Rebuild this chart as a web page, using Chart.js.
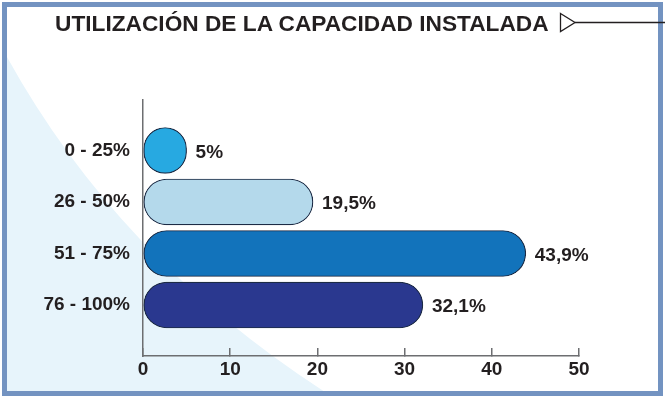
<!DOCTYPE html>
<html>
<head>
<meta charset="utf-8">
<script src="https://cdn.jsdelivr.net/npm/chart.js@4.4.0/dist/chart.umd.min.js"></script>
<style>
  body{margin:0;background:#fff;}
  #box{position:relative;width:665px;height:397px;overflow:hidden;}
  #frame{position:absolute;left:2px;top:2px;width:661px;height:394px;box-sizing:border-box;border:5px solid #7393c1;}
  #title{position:absolute;left:55px;top:12px;font:bold 22.7px "Liberation Sans",Arial,sans-serif;line-height:22px;color:#231f20;white-space:nowrap;}
  canvas, svg{position:absolute;left:0;top:0;}
</style>
</head>
<body>
<div id="box">
  <canvas id="myChart" width="665" height="397"></canvas>
  <div id="frame"></div>
  <div id="title">UTILIZACIÓN DE LA CAPACIDAD INSTALADA</div>
  <svg width="665" height="397">
    <polygon points="560.5,13.5 575,22.5 560.5,31.5" fill="#fff" stroke="#231f20" stroke-width="1.3"/>
    <line x1="575" y1="22.5" x2="665" y2="22.5" stroke="#231f20" stroke-width="1.3"/>
  </svg>
</div>
<script>
var categories = ["0 - 25%", "26 - 50%", "51 - 75%", "76 - 100%"];
var values = [5, 19.5, 43.9, 32.1];
var barColors = ["#27a9e1", "#b4d9eb", "#1273bb", "#2a388f"];
var xTicks = [0, 10, 20, 30, 40, 50];

var labelFont = {family: "Liberation Sans", size: 19, weight: "bold"};

// light blue curved wedge behind the chart
var wedge = {
  id: "wedge",
  beforeDraw: function(chart){
    var ctx = chart.ctx;
    ctx.save();
    ctx.beginPath();
    ctx.rect(7, 7, 651, 384);
    ctx.clip();
    ctx.beginPath();
    ctx.moveTo(7, 57);
    ctx.quadraticCurveTo(118, 258, 325, 392);
    ctx.lineTo(7, 392);
    ctx.closePath();
    ctx.fillStyle = "#e7f4fb";
    ctx.fill();
    ctx.restore();
  }
};

// value text at the end of each bar
var valueLabels = {
  id: "valueLabels",
  afterDatasetsDraw: function(chart){
    var ctx = chart.ctx;
    var meta = chart.getDatasetMeta(0);
    ctx.save();
    ctx.font = "bold 19px 'Liberation Sans'";
    ctx.fillStyle = "#231f20";
    ctx.textBaseline = "middle";
    meta.data.forEach(function(bar, i){
      var txt = String(values[i]).replace(".", ",") + "%";
      ctx.fillText(txt, bar.x + 9, bar.y + 2);
    });
    ctx.restore();
  }
};

new Chart("myChart", {
  type: "bar",
  data: {
    datasets: [{
      data: values.map(function(v, i){ return {x: v, y: i}; }),
      backgroundColor: barColors,
      borderColor: "#1c2b45",
      borderWidth: 1.2,
      borderRadius: 23,
      borderSkipped: false,
      barThickness: 46
    }]
  },
  options: {
    indexAxis: "y",
    responsive: false,
    animation: false,
    devicePixelRatio: 1,
    layout: {padding: {top: 100, right: 86, left: 0, bottom: 0}},
    plugins: {legend: {display: false}, tooltip: {enabled: false}},
    scales: {
      x: {
        type: "linear",
        min: xTicks[0],
        max: xTicks[xTicks.length - 1],
        afterBuildTicks: function(s){ s.ticks = xTicks.map(function(t){ return {value: t}; }); },
        afterFit: function(s){ s.height = 41; s.paddingLeft = 0; s.paddingRight = 0; },
        grid: {drawOnChartArea: false, tickLength: -8, color: "#6d6e71", lineWidth: 1.5},
        border: {display: true, color: "#6d6e71", width: 1.5},
        ticks: {padding: 10, font: labelFont, color: "#231f20", maxRotation: 0}
      },
      y: {
        type: "linear",
        reverse: true,
        offset: false,
        min: -0.98,
        max: 3.99,
        afterBuildTicks: function(s){ s.ticks = categories.map(function(c, i){ return {value: i}; }); },
        afterFit: function(s){ s.width = 143; },
        grid: {display: false, drawTicks: false, offset: false},
        border: {display: true, color: "#6d6e71", width: 1.5},
        ticks: {
          padding: 13,
          font: labelFont,
          color: "#231f20",
          callback: function(v){ return categories[v]; }
        }
      }
    }
  },
  plugins: [wedge, valueLabels]
});
</script>
</body>
</html>
